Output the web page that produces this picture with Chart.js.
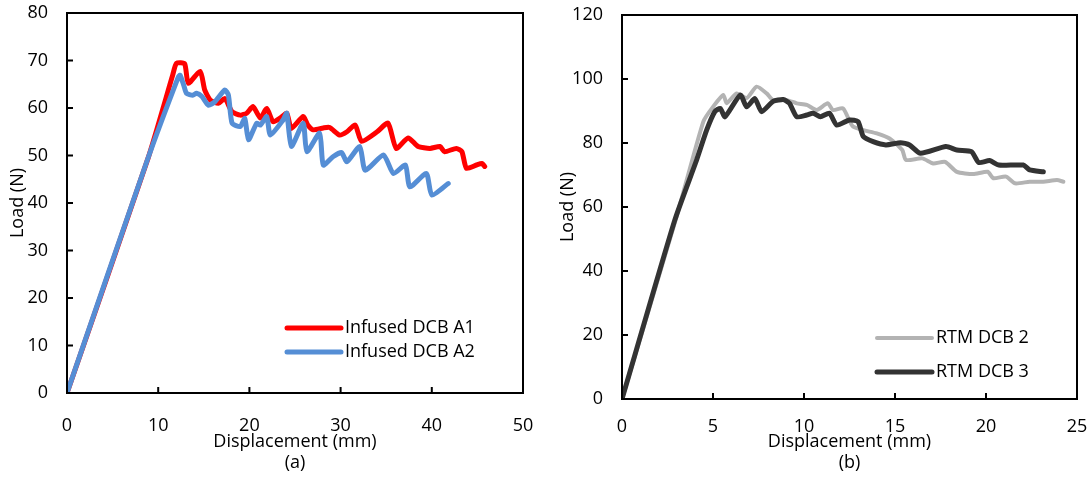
<!DOCTYPE html>
<html>
<head>
<meta charset="utf-8">
<script src="https://cdn.jsdelivr.net/npm/chart.js@4.4.0/dist/chart.umd.min.js"></script>
<style>
  body { margin: 0; background: #fff; }
  .wrap { position: absolute; top: 0; height: 481px; }
</style>
</head>
<body>
<div class="wrap" style="left:0;width:545px"><canvas id="chartA"></canvas></div>
<div class="wrap" style="left:545px;width:543px"><canvas id="chartB"></canvas></div>
<script>
// (a) infused specimens
const a1X = [0, 8.9, 11.6, 12.0, 12.9, 13.3, 14.6, 15.1, 15.7, 16.6, 17.3, 18.1, 19.0, 19.7, 20.4, 21.2, 21.9, 22.6, 23.4, 24.1, 24.6, 25.9, 26.4, 27.0, 28.1, 28.8, 29.9, 30.7, 31.6, 32.3, 34.0, 35.2, 36.1, 37.4, 38.5, 39.8, 40.9, 41.4, 42.7, 43.3, 43.8, 44.9, 45.5, 45.8];
const a1Y = [0, 49.5, 67.0, 69.4, 69.3, 65.2, 67.7, 63.8, 61.7, 61.0, 62.0, 59.2, 58.5, 58.9, 60.3, 57.9, 59.9, 57.1, 57.9, 58.9, 55.7, 58.2, 56.4, 55.4, 55.8, 55.9, 54.3, 55.0, 56.4, 53.0, 55.0, 56.8, 51.5, 53.7, 51.9, 51.5, 51.9, 50.8, 51.5, 50.8, 47.3, 48.0, 48.3, 47.7];
const a2X = [0, 8.8, 12.2, 12.4, 12.8, 13.1, 13.8, 14.2, 14.8, 15.5, 16.2, 17.3, 17.7, 18.1, 19.0, 19.5, 19.9, 20.8, 21.2, 21.9, 22.3, 23.7, 24.1, 24.6, 25.9, 26.3, 27.7, 28.1, 29.2, 30.1, 30.7, 32.1, 32.7, 34.7, 35.8, 37.1, 37.6, 39.4, 40.0, 41.8];
const a2Y = [0, 49.0, 66.5, 66.9, 64.8, 63.1, 62.7, 63.1, 62.4, 60.6, 61.3, 63.8, 62.7, 56.8, 56.1, 57.8, 53.3, 56.8, 56.4, 58.2, 54.3, 57.5, 58.9, 51.9, 56.8, 50.8, 54.7, 48.0, 49.8, 50.6, 48.7, 51.9, 46.9, 50.1, 46.2, 48.0, 43.4, 46.2, 41.7, 44.1];

// (b) RTM specimens
const r2X = [0, 3.0, 4.47, 5.0, 5.57, 5.75, 6.3, 6.85, 7.4, 7.95, 8.3, 9.05, 9.6, 10.15, 10.7, 11.3, 11.6, 12.15, 12.7, 14.0, 14.7, 15.4, 15.6, 16.5, 17.1, 17.75, 18.4, 19.3, 20.1, 20.4, 21.1, 21.6, 22.4, 23.15, 23.9, 24.25];
const r2Y = [0, 57, 86.7, 91.3, 95.0, 92.4, 95.5, 94.0, 97.6, 95.5, 93.4, 93.4, 92.4, 91.9, 90.3, 92.4, 90.3, 90.8, 85.1, 83.0, 81.4, 77.8, 74.7, 75.2, 73.6, 74.1, 71.0, 70.3, 71.0, 69.0, 69.5, 67.4, 67.9, 67.9, 68.4, 67.9];
const r3X = [0, 2.9, 4.1, 4.65, 5.1, 5.4, 5.66, 6.5, 6.85, 7.3, 7.67, 8.3, 8.86, 9.2, 9.6, 10.15, 10.5, 10.9, 11.4, 11.8, 12.5, 12.97, 13.26, 13.8, 14.5, 15.3, 15.8, 16.4, 17.8, 18.4, 19.2, 19.6, 20.2, 20.7, 22.05, 22.4, 23.15];
const r3Y = [0, 55.9, 74.7, 84.0, 89.8, 90.8, 88.2, 95.0, 91.3, 93.9, 89.8, 93.0, 93.6, 92.4, 88.2, 88.75, 89.3, 88.2, 89.3, 85.6, 87.2, 86.7, 82.0, 80.4, 79.4, 80.1, 79.4, 76.8, 78.9, 77.8, 77.3, 73.9, 74.5, 73.1, 73.1, 71.6, 71.0];

const FONT = "'Open Sans', sans-serif";
const FSIZE = 18;

function points(xs, ys) {
    return xs.map((x, i) => ({ x: x, y: ys[i] }));
}

function series(label, xs, ys, color, width, order) {
    return {
        label: label,
        data: points(xs, ys),
        borderColor: color,
        backgroundColor: color,
        borderWidth: width,
        showLine: true,
        pointRadius: 0,
        tension: 0.2,
        borderJoinStyle: 'round',
        borderCapStyle: 'round',
        order: order
    };
}

// box around the plot area with inward tick marks
const framePlugin = {
    id: 'frame',
    afterDatasetsDraw(chart) {
        const ctx = chart.ctx;
        const a = chart.chartArea;
        ctx.save();
        ctx.strokeStyle = '#000';
        ctx.lineWidth = 2;
        ctx.strokeRect(a.left, a.top, a.right - a.left, a.bottom - a.top);
        const xs = chart.scales.x, ys = chart.scales.y;
        ctx.beginPath();
        xs.ticks.forEach(t => {
            const px = xs.getPixelForValue(t.value);
            ctx.moveTo(px, a.bottom);
            ctx.lineTo(px, a.bottom - 6);
        });
        ys.ticks.forEach(t => {
            const py = ys.getPixelForValue(t.value);
            ctx.moveTo(a.left, py);
            ctx.lineTo(a.left + 6, py);
        });
        ctx.stroke();
        ctx.restore();
    }
};

// legend drawn inside the plot area
const innerLegend = {
    id: 'innerLegend',
    afterDraw(chart, args, opts) {
        const ctx = chart.ctx;
        ctx.save();
        ctx.font = FSIZE + 'px ' + FONT;
        ctx.textBaseline = 'middle';
        ctx.fillStyle = '#000';
        chart.data.datasets.forEach((ds, i) => {
            const y = opts.y + i * opts.gap;
            ctx.strokeStyle = ds.borderColor;
            ctx.lineWidth = ds.borderWidth;
            ctx.lineCap = 'round';
            ctx.beginPath();
            ctx.moveTo(opts.x, y);
            ctx.lineTo(opts.x + opts.len, y);
            ctx.stroke();
            ctx.fillText(ds.label, opts.x + opts.len + 4, y);
        });
        ctx.restore();
    }
};

function makeChart(id, datasets, cfg) {
    return new Chart(document.getElementById(id), {
        type: 'scatter',
        data: { datasets: datasets },
        options: {
            responsive: true,
            maintainAspectRatio: false,
            animation: false,
            layout: { autoPadding: false, padding: { left: 0, right: cfg.padRight, top: cfg.padTop, bottom: 0 } },
            plugins: {
                legend: { display: false },
                tooltip: { enabled: false },
                innerLegend: cfg.legend
            },
            scales: {
                x: {
                    type: 'linear',
                    min: 0,
                    max: cfg.xMax,
                    grid: { display: false, drawTicks: false },
                    border: { display: false },
                    ticks: { stepSize: cfg.xStep, padding: cfg.xTickPad, color: '#000', font: { family: FONT, size: FSIZE } },
                    title: {
                        display: true,
                        text: ['Displacement (mm)', cfg.tag],
                        color: '#000',
                        font: { family: FONT, size: FSIZE, lineHeight: 1.17 },
                        padding: { top: 0, bottom: 8 }
                    },
                    afterFit: s => {
                        s.height = cfg.xHeight;
                        s.paddingLeft = 0;
                        s.paddingRight = 0;
                    }
                },
                y: {
                    type: 'linear',
                    min: 0,
                    max: cfg.yMax,
                    grid: { display: false, drawTicks: false },
                    border: { display: false },
                    ticks: { stepSize: cfg.yStep, padding: 19, color: '#000', font: { family: FONT, size: FSIZE } },
                    title: {
                        display: true,
                        text: 'Load (N)',
                        color: '#000',
                        font: { family: FONT, size: FSIZE, lineHeight: 1.17 },
                        padding: { top: cfg.yTitlePad, bottom: 0 }
                    },
                    afterFit: s => {
                        s.width = cfg.yWidth;
                        s.paddingTop = 0;
                        s.paddingBottom = 0;
                    }
                }
            }
        },
        plugins: [framePlugin, innerLegend]
    });
}

makeChart('chartA', [
    series('Infused DCB A1', a1X, a1Y, '#ff0000', 5, 2),
    series('Infused DCB A2', a2X, a2Y, '#558ed5', 5, 1)
], {
    xMax: 50, xStep: 10, yMax: 80, yStep: 10, tag: '(a)',
    padTop: 13, padRight: 22, xHeight: 88, yWidth: 67, yTitlePad: 7, xTickPad: 22,
    legend: { x: 287, y: 328, gap: 24, len: 54 }
});

makeChart('chartB', [
    series('RTM DCB 2', r2X, r2Y, '#b3b3b3', 4, 2),
    series('RTM DCB 3', r3X, r3Y, '#333333', 5, 1)
], {
    xMax: 25, xStep: 5, yMax: 120, yStep: 20, tag: '(b)',
    padTop: 15, padRight: 11, xHeight: 82, yWidth: 77, yTitlePad: 12, xTickPad: 17,
    legend: { x: 332, y: 338, gap: 34, len: 55 }
});
</script>
</body>
</html>
